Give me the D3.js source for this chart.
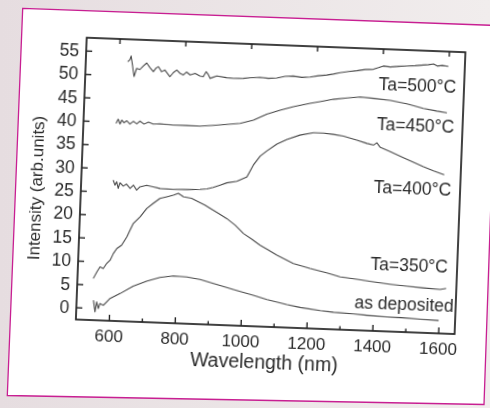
<!DOCTYPE html>
<html lang="en">
<head>
  <meta charset="UTF-8" />
  <title>PL spectra vs annealing temperature</title>
  <script src="https://d3js.org/d3.v7.min.js"></script>
  <style>
    body { margin: 0; background: #ece6e8; }
    svg { display: block; }
    text { font-family: "Liberation Sans", Arial, sans-serif; fill: #2b2b2b; }
  </style>
</head>
<body>
  <div id="chart"></div>
  <script>
    // spectra: [wavelength nm, intensity arb.units]
    const asDeposited = [[551,1.65],[557,-0.84],[561,1.32],[567,-0.1],[571,0.99],[582,0.66],[591,1.39],[601,2.15],[631,3.3],[670,4.97],[710,6.15],[750,7.05],[790,7.5],[831,7.4],[872,6.95],[913,6.2],[974,5.1],[1035,4.0],[1077,3.2],[1138,2.3],[1179,1.8],[1240,1.3],[1280,1.05],[1341,0.85],[1382,0.68],[1443,0.48],[1483,0.46],[1544,0.27],[1600,0.14]];
    const ta350 = [[548,6.29],[558,7.73],[567,8.83],[577,8.52],[587,9.62],[597,10.35],[606,11.8],[616,12.9],[630,13.65],[645,15.47],[654,16.95],[663,18.4],[683,19.87],[702,21.7],[721,22.85],[741,23.97],[761,24.37],[781,24.78],[796,25.19],[812,24.5],[837,24.23],[858,23.56],[878,22.9],[894,22.25],[920,21.24],[946,20.2],[972,18.87],[998,17.16],[1024,16.0],[1050,14.79],[1076,13.79],[1102,12.79],[1153,11.15],[1204,10.22],[1255,9.41],[1296,8.66],[1347,8.31],[1398,7.87],[1449,7.51],[1500,7.22],[1550,6.99],[1601,6.79],[1619,7.05]];
    const ta400 = [[597,27.5],[603,26.45],[608,27.17],[613,25.76],[618,26.98],[628,26.3],[638,26.75],[649,25.86],[659,26.6],[669,25.55],[679,26.29],[699,26.64],[719,26.4],[740,26.1],[780,26.0],[821,26.1],[861,26.22],[882,26.4],[901,26.77],[922,27.31],[942,27.86],[972,28.25],[1002,29.3],[1020,31.87],[1040,33.85],[1059,34.97],[1089,36.55],[1119,37.65],[1158,38.67],[1199,39.27],[1229,39.3],[1259,39.1],[1290,38.81],[1331,38.07],[1362,37.44],[1382,37.13],[1392,37.65],[1403,36.7],[1434,35.84],[1485,34.35],[1536,32.9],[1567,32.12],[1600,31.35]];
    const ta450 = [[599,39.66],[605,40.6],[611,39.55],[616,40.42],[623,39.86],[631,40.31],[641,39.63],[651,40.24],[662,39.74],[671,40.35],[684,39.74],[697,40.2],[712,39.82],[732,39.94],[773,39.77],[814,39.82],[854,39.78],[894,40.04],[935,40.36],[975,40.69],[1015,41.5],[1055,42.89],[1095,43.85],[1135,44.68],[1185,45.55],[1225,46.15],[1255,46.6],[1296,46.98],[1336,47.3],[1377,47.13],[1428,46.84],[1478,46.25],[1529,45.4],[1570,44.93],[1601,44.65]];
    const ta500 = [[627,52.95],[633,53.33],[637,54.2],[642,52.28],[648,49.83],[655,51.6],[665,51.38],[675,52.16],[685,52.83],[695,51.89],[706,51.02],[714,51.83],[721,52.13],[731,51.09],[741,51.48],[757,50.09],[767,51.01],[777,51.58],[787,50.9],[797,50.56],[807,51.23],[818,50.62],[833,51.02],[848,50.48],[858,50.36],[866,51.45],[873,50.87],[879,50.07],[899,50.62],[929,50.34],[950,50.26],[980,50.34],[1000,50.53],[1030,50.7],[1056,50.55],[1081,50.68],[1106,51.11],[1131,51.25],[1157,51.04],[1182,51.17],[1207,51.52],[1232,51.73],[1252,52.0],[1272,52.34],[1298,52.67],[1323,52.9],[1348,53.23],[1373,53.34],[1388,53.72],[1403,54.13],[1424,53.97],[1449,54.19],[1474,54.32],[1499,54.45],[1524,54.67],[1539,54.78],[1555,54.97],[1566,54.57],[1581,54.72],[1600,54.6]];

    const seriesNames = ["as deposited", "Ta=350°C", "Ta=400°C", "Ta=450°C", "Ta=500°C"];
    // where each curve's label sits, in data units (right end of the text)
    const labelAnchors = [[1644, 2.15], [1622, 10.43], [1623, 26.88], [1625, 40.45], [1626, 49.0]];

    const xMajorTicks = [600, 800, 1000, 1200, 1400, 1600];
    const xMinorTicks = [700, 900, 1100, 1300, 1500];
    const yTicks = [0, 5, 10, 15, 20, 25, 30, 35, 40, 45, 50, 55];

    const W = 490, H = 408;
    const plotW = 379, plotH = 282;

    const svg = d3.select("#chart").append("svg").attr("width", W).attr("height", H);

    // scanned page look: tinted background + tilted white card
    const grad = svg.append("defs").append("linearGradient").attr("id", "bg").attr("x1", 0).attr("x2", 1);
    grad.append("stop").attr("offset", 0).attr("stop-color", "#e6dde0");
    grad.append("stop").attr("offset", 1).attr("stop-color", "#f1eded");
    svg.select("defs").append("filter").attr("id", "soft")
      .append("feGaussianBlur").attr("stdDeviation", 0.35);
    svg.append("rect").attr("width", W).attr("height", H).attr("fill", "url(#bg)");
    svg.append("polygon")
      .attr("points", "22.7,8.3 497,25.5 484,404.5 7.3,395.5")
      .attr("fill", "#fff").attr("stroke", "#c81f92").attr("stroke-width", 1.3);

    const g = svg.append("g")
      .attr("transform", "translate(86.7,37.7) rotate(2.2)")
      .attr("filter", "url(#soft)");

    const x = d3.scaleLinear().domain([500, 1650]).range([0, plotW]);
    const y = d3.scaleLinear().domain([-2.62, 57.75]).range([plotH, 0]);

    const line = d3.line().x(d => x(d[0])).y(d => y(d[1]));
    [asDeposited, ta350, ta400, ta450, ta500].forEach(s => {
      g.append("path").datum(s)
        .attr("d", line).attr("fill", "none")
        .attr("stroke", "#4a4a4a").attr("stroke-width", 1.1).attr("stroke-linejoin", "round");
    });

    g.selectAll("text.lbl")
      .data(seriesNames)
      .enter().append("text").attr("class", "lbl")
      .attr("x", (d, i) => x(labelAnchors[i][0]))
      .attr("y", (d, i) => y(labelAnchors[i][1]))
      .attr("text-anchor", "end").style("font-size", "17.5px")
      .text(d => d);

    // axes, ticks pointing inward
    const bottom = g.append("g").attr("transform", `translate(0,${plotH})`)
      .call(d3.axisBottom(x).tickValues(xMajorTicks).tickSize(-6).tickPadding(8.5).tickFormat(d3.format("d")));
    g.append("g").attr("transform", `translate(0,${plotH})`)
      .call(d3.axisBottom(x).tickValues(xMinorTicks).tickSize(-3.5).tickFormat(""));
    g.append("g")
      .call(d3.axisTop(x).tickValues(xMajorTicks).tickSize(-5).tickFormat(""));
    const left = g.append("g")
      .call(d3.axisLeft(y).tickValues(yTicks).tickSize(-6).tickPadding(7).tickFormat(d3.format("d")));

    g.selectAll(".domain").remove();
    g.selectAll(".tick line").attr("stroke", "#222").attr("stroke-width", 1.4);
    bottom.selectAll("text").style("font-size", "17px").attr("fill", "#2b2b2b");
    left.selectAll("text").style("font-size", "17.5px").attr("fill", "#2b2b2b");

    g.append("rect").attr("width", plotW).attr("height", plotH)
      .attr("fill", "none").attr("stroke", "#222").attr("stroke-width", 1.7);

    g.append("text")
      .attr("x", plotW / 2).attr("y", plotH + 42)
      .attr("text-anchor", "middle").style("font-size", "19.5px")
      .text("Wavelength (nm)");
    g.append("text")
      .attr("transform", `translate(-39,${plotH / 2 + 11}) rotate(-90)`)
      .attr("text-anchor", "middle").style("font-size", "17px")
      .text("Intensity (arb.units)");
  </script>
</body>
</html>
